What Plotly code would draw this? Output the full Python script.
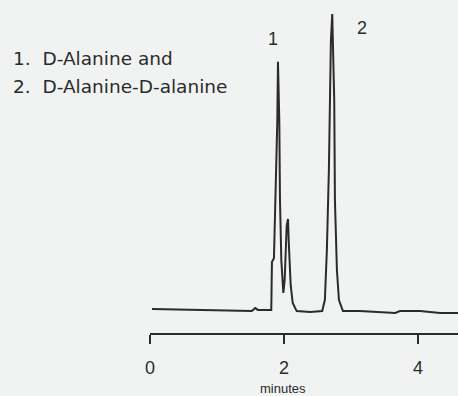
import plotly.graph_objects as go

# Chromatogram trace (time in minutes, relative signal)
time_min = [0.03, 0.75, 1.42, 1.52, 1.57, 1.61, 1.81, 1.82, 1.85, 1.88, 1.90, 1.91,
            1.93, 1.94, 1.96, 1.99, 2.01, 2.04, 2.06, 2.07, 2.10, 2.13, 2.19, 2.39,
            2.57, 2.61, 2.64, 2.67, 2.69, 2.70, 2.72, 2.73, 2.75, 2.76, 2.79, 2.82,
            2.88, 3.13, 3.51, 3.66, 3.73, 4.03, 4.33, 4.60]
signal = [1.0, 0.7, 0.3, 0.3, 1.3, 0.7, 0.7, 16.8, 18.0, 44.0, 64.0, 84.0,
          64.0, 37.6, 17.4, 6.4, 10.7, 29.0, 31.2, 24.0, 9.0, 3.0, 0.3, 0.0,
          0.3, 4.0, 20.8, 47.7, 71.0, 91.0, 100.0, 91.0, 71.0, 37.6, 14.0, 4.0,
          0.3, 0.3, -0.3, -0.3, 0.3, 0.3, -0.3, -0.3]

tick_vals = [0, 2, 4]
tick_text = ["0", "2", "4"]

peak_labels = ["1", "2"]
peak_label_x = [1.836, 3.164]
peak_label_y = [91.6, 95.3]

legend_lines = ["1.\u00a0\u00a0D-Alanine and", "2.\u00a0\u00a0D-Alanine-D-alanine"]

FONT = "Liberation Sans, Arial, sans-serif"
LEG_FONT = "DejaVu Sans, sans-serif"
INK = "#2b2b2b"
BG = "#f1f2f2"

fig = go.Figure()
fig.add_trace(go.Scatter(x=time_min, y=signal, mode="lines",
                         line=dict(color=INK, width=2), hoverinfo="skip",
                         showlegend=False))

for lab, x, y in zip(peak_labels, peak_label_x, peak_label_y):
    fig.add_annotation(x=x, y=y, xref="x", yref="y", text=lab, showarrow=False,
                       font=dict(family=FONT, size=18, color=INK),
                       xanchor="center", yanchor="middle")

for i, txt in enumerate(legend_lines):
    fig.add_annotation(x=(11 - 150) / 308, y=[0.8258, 0.7417][i], xref="paper", yref="paper",
                       text=txt, showarrow=False, xanchor="left", yanchor="middle",
                       font=dict(family=LEG_FONT, size=18.5, color=INK))

fig.add_annotation(x=(283 - 150) / 308, y=-0.168, xref="paper", yref="paper",
                   text="minutes", showarrow=False, xanchor="center", yanchor="middle",
                   font=dict(family=FONT, size=13, color=INK))

fig.update_layout(
    width=458, height=396,
    margin=dict(l=150, r=0, t=0, b=63),
    paper_bgcolor=BG, plot_bgcolor=BG,
    xaxis=dict(range=[0, 4.597], showgrid=False, zeroline=False,
               showline=True, linecolor=INK, linewidth=1.8,
               ticks="outside", ticklen=9, tickwidth=1.5, tickcolor=INK,
               tickvals=tick_vals, ticktext=tick_text, ticklabelstandoff=8,
               tickfont=dict(family=FONT, size=18, color=INK)),
    yaxis=dict(range=[-7.05, 104.7], visible=False, showgrid=False, zeroline=False),
)

fig.write_html("out.html", config={"displayModeBar": False},
               post_script="document.body.style.margin='0';document.body.style.background='#f1f2f2';")
